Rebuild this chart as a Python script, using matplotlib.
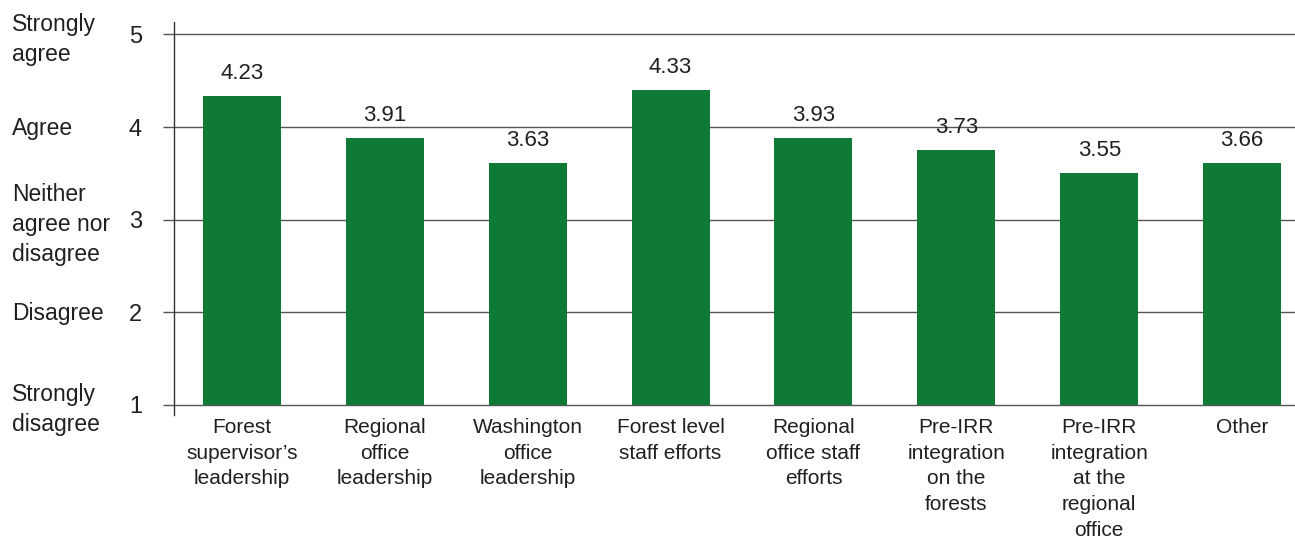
import matplotlib.pyplot as plt
import matplotlib.transforms as mtransforms

plt.rcParams['font.family'] = ['Liberation Sans', 'DejaVu Sans']

# Survey categories and mean scores
categories = [
    "Forest\nsupervisor\u2019s\nleadership",
    "Regional\noffice\nleadership",
    "Washington\noffice\nleadership",
    "Forest level\nstaff efforts",
    "Regional\noffice staff\nefforts",
    "Pre-IRR\nintegration\non the\nforests",
    "Pre-IRR\nintegration\nat the\nregional\noffice",
    "Other",
]
# bar heights as drawn in the picture
bar_heights = [4.33, 3.88, 3.61, 4.40, 3.88, 3.75, 3.50, 3.61]
# printed values above the bars
value_labels = ["4.23", "3.91", "3.63", "4.33", "3.93", "3.73", "3.55", "3.66"]

scale_ticks = [1, 2, 3, 4, 5]
scale_names = ["Strongly\ndisagree", "Disagree", "Neither\nagree nor\ndisagree",
               "Agree", "Strongly\nagree"]

green = "#0E7A36"
text_color = "#231F20"
grid_color = "#555555"

fig = plt.figure(figsize=(12.95, 5.40), dpi=100)
ax = fig.add_axes([174 / 1295, 1 - 415 / 540, 1 - 174 / 1295, (415 - 22.3) / 540])

x = list(range(len(categories)))
base = scale_ticks[0]
ax.bar(x, [h - base for h in bar_heights], bottom=base, width=0.546,
       color=green, zorder=2)

for xi, h, lab in zip(x, bar_heights, value_labels):
    ax.annotate(lab, (xi, h), xytext=(0, 16.5), textcoords="offset points",
                ha="center", va="center", fontsize=16, color=text_color)

ax.set_xlim(-0.475, 7.37)
ax.set_ylim(0.892, 5.13)

ax.set_yticks(scale_ticks)
ax.set_yticklabels([str(t) for t in scale_ticks], fontsize=17, color=text_color)
ax.yaxis.grid(True, color=grid_color, linewidth=1.0)
ax.set_axisbelow(True)
ax.tick_params(axis="y", length=8, width=1.0, color=grid_color, pad=15)

ax.set_xticks(x)
ax.set_xticklabels(categories, fontsize=15, color=text_color, linespacing=1.45)
ax.tick_params(axis="x", length=0, pad=2)

for side in ["top", "right", "bottom"]:
    ax.spines[side].set_visible(False)
ax.spines["left"].set_color("#333333")
ax.spines["left"].set_linewidth(1.0)

# verbal scale labels on the far left
trans = mtransforms.blended_transform_factory(fig.transFigure, ax.transData)
for t, name in zip(scale_ticks, scale_names):
    shift = -3.5 if "\n" in name else -1
    ax.annotate(name, (12 / 1295, t), xycoords=trans, xytext=(0, shift),
                textcoords="offset points", ha="left", va="center",
                fontsize=16.5, color=text_color, linespacing=1.4)

fig.savefig("out.png", dpi=100)
